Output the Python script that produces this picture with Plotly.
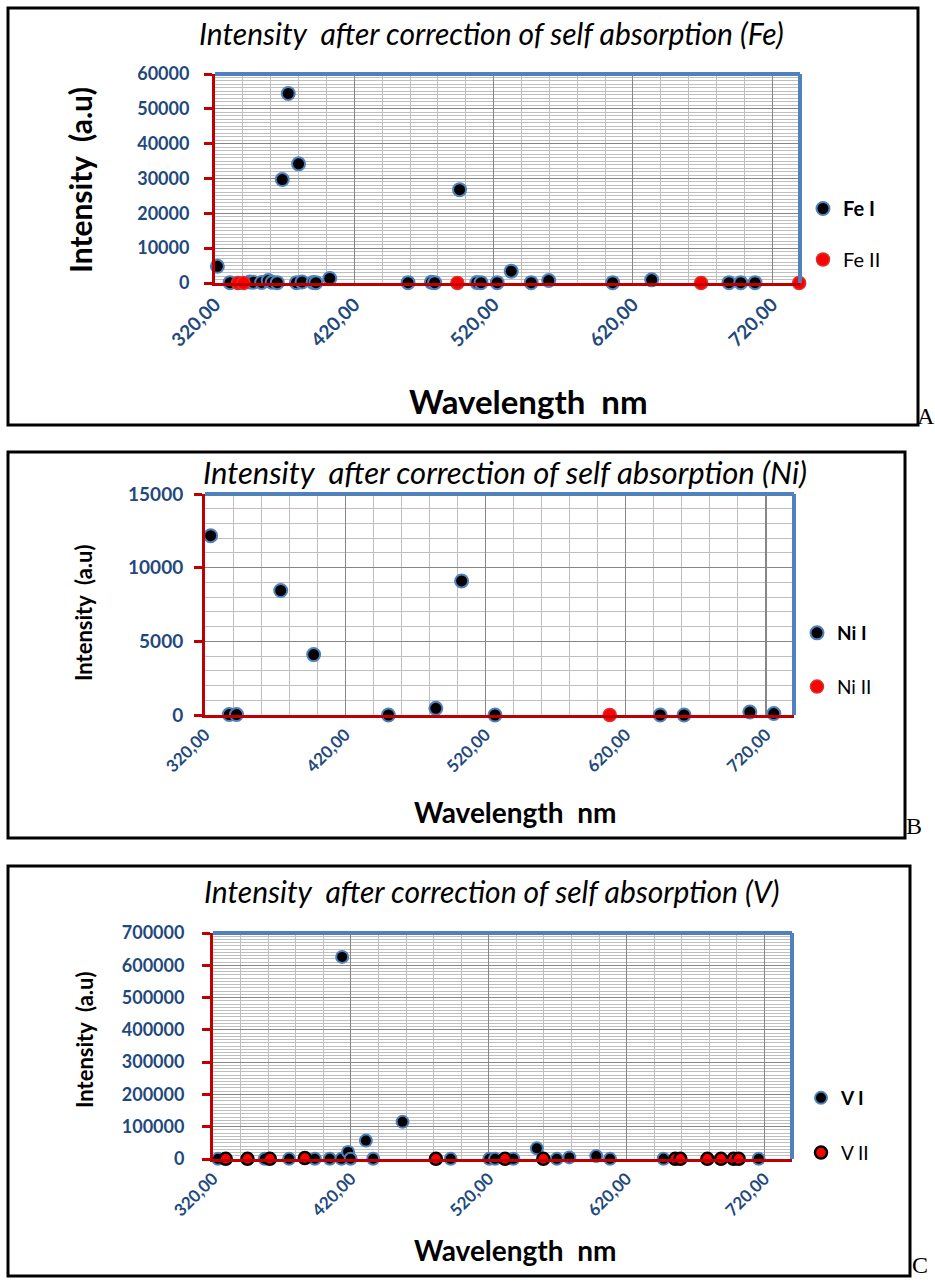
import plotly.graph_objects as go

W, H = 935, 1283

# ---------------- data ----------------
fe1_x = [321.7, 330.8, 345.0, 347.5, 353.5, 358.2, 361.0, 364.7, 368.3, 372.6, 378.5, 380.0, 382.5,
         390.5, 392.4, 402.4, 458.6, 475.3, 477.7, 495.6, 508.0, 511.0, 522.6, 532.7, 547.0, 559.6,
         605.5, 633.5, 689.0, 697.5, 707.7]
fe1_y = [4800, 100, 300, 200, 150, 700, 200, 100, 29700, 54400, 100, 34200, 300,
         150, 100, 1300, 100, 200, 100, 26800, 150, 100, 100, 3400, 100, 700,
         100, 900, 100, 100, 100]
fe2_x = [336.5, 340.5, 494.0, 669.0, 739.4]
fe2_y = [0, 0, 0, 0, 0]

ni1_x = [324.0, 337.3, 342.5, 374.0, 397.5, 450.8, 484.6, 503.0, 526.8, 644.6, 661.6, 708.5, 725.6]
ni1_y = [12170, 30, 30, 8450, 4100, 0, 450, 9100, 0, 0, 0, 200, 100]
ni2_x = [608.6]
ni2_y = [0]

v1_x = [323.6, 357.5, 375.2, 393.9, 404.7, 413.2, 413.7, 418.0, 419.8, 430.9, 436.2, 457.5,
        492.4, 520.4, 524.6, 537.9, 554.9, 569.4, 578.5, 598.0, 608.0, 646.8, 715.8]
v1_y = [500, 500, 500, 1000, 1000, 500, 626000, 22000, 1000, 57000, 1000, 115000,
        500, 500, 500, 500, 33000, 500, 5000, 9000, 500, 500, 500]
v2_x = [329.2, 345.0, 361.2, 386.6, 481.7, 531.8, 559.6, 655.3, 659.0, 678.6, 688.5, 697.6, 701.3]
v2_y = [500, 500, 500, 3000, 500, 500, 500, 500, 500, 500, 500, 500, 500]

x_ticks = [320, 420, 520, 620, 720]

# ---------------- helpers ----------------
def xdom(a, b):
    return [a / W, b / W]

def ydom(top, bottom):
    return [1 - bottom / H, 1 - top / H]

def px(x):
    return x / W

def py(y):
    return 1 - y / H

FONT = "Lato"
TICKBLUE = "#1F497D"
RED_AX = "#C00000"
BLUE_BORDER = "#4F81BD"
MAJOR_GRID = "#868686"
MINOR_GRID = "#BFBFBF"

fig = go.Figure()

# Panel A
fig.add_trace(go.Scatter(x=fe1_x, y=fe1_y, mode="markers", name="<b>Fe I</b>",
                         marker=dict(size=13, color="black", line=dict(color=BLUE_BORDER, width=2)),
                         xaxis="x", yaxis="y", legend="legend", legendgroup="a1", cliponaxis=False))
fig.add_trace(go.Scatter(x=fe2_x, y=fe2_y, mode="markers", name="Fe II",
                         marker=dict(size=13, color="#FF0000", line=dict(color="#D83030", width=1.5)),
                         xaxis="x", yaxis="y", legend="legend", legendgroup="a2", cliponaxis=False))
# Panel B
fig.add_trace(go.Scatter(x=ni1_x, y=ni1_y, mode="markers", name="<b>Ni I</b>",
                         marker=dict(size=13, color="black", line=dict(color=BLUE_BORDER, width=2)),
                         xaxis="x2", yaxis="y2", legend="legend2", legendgroup="b1", cliponaxis=False))
fig.add_trace(go.Scatter(x=ni2_x, y=ni2_y, mode="markers", name="Ni II",
                         marker=dict(size=13, color="#FF0000", line=dict(color="#D83030", width=1.5)),
                         xaxis="x2", yaxis="y2", legend="legend2", legendgroup="b2", cliponaxis=False))
# Panel C
fig.add_trace(go.Scatter(x=v1_x, y=v1_y, mode="markers", name="<b>V I</b>",
                         marker=dict(size=12, color="black", line=dict(color=BLUE_BORDER, width=2)),
                         xaxis="x3", yaxis="y3", legend="legend3", legendgroup="c1", cliponaxis=False))
fig.add_trace(go.Scatter(x=v2_x, y=v2_y, mode="markers", name="V II",
                         marker=dict(size=12, color="#FF0000", line=dict(color="black", width=2.5)),
                         xaxis="x3", yaxis="y3", legend="legend3", legendgroup="c2", cliponaxis=False))


def xaxis_cfg(dom, anchor, fsize):
    return dict(domain=dom, anchor=anchor, range=[320, 740], tickmode="array",
                tickvals=x_ticks, tickformat=".2f", tickangle=-45, automargin=False,
                tickfont=dict(family=FONT, size=fsize, color=TICKBLUE, weight="bold"),
                showgrid=True, gridcolor=MAJOR_GRID, gridwidth=1.2,
                minor=dict(tick0=320, dtick=20, showgrid=True, gridcolor=MINOR_GRID, gridwidth=1),
                showline=True, linecolor=RED_AX, linewidth=3, zeroline=False, ticks="",
                fixedrange=True)


def yaxis_cfg(dom, anchor, rng, dtick, mdtick, fsize, standoff):
    return dict(domain=dom, anchor=anchor, range=rng, tickmode="linear", tick0=0, dtick=dtick,
                tickformat="d", automargin=False,
                tickfont=dict(family=FONT, size=fsize, color=TICKBLUE, weight="bold"),
                showgrid=True, gridcolor=MAJOR_GRID, gridwidth=1.2,
                minor=dict(tick0=0, dtick=mdtick, showgrid=True, gridcolor=MINOR_GRID, gridwidth=1),
                showline=True, linecolor=RED_AX, linewidth=3, zeroline=False,
                ticks="outside", tickcolor=RED_AX, ticklen=8, tickwidth=3,
                ticklabelstandoff=standoff, fixedrange=True)


A_box = (215, 800, 74, 283)
B_box = (205, 794, 494, 715)
C_box = (213, 792, 933, 1159)

fig.update_layout(
    width=W, height=H, margin=dict(l=0, r=0, t=0, b=0, pad=0, autoexpand=False),
    paper_bgcolor="white", plot_bgcolor="white",
    separators=", ",
    font=dict(family=FONT),
    hovermode=False,
    xaxis=xaxis_cfg(xdom(A_box[0], A_box[1]), "y", 19),
    yaxis=yaxis_cfg(ydom(A_box[2], A_box[3]), "x", [0, 60000], 10000, 1000, 18, 11),
    xaxis2=xaxis_cfg(xdom(B_box[0], B_box[1]), "y2", 17),
    yaxis2=yaxis_cfg(ydom(B_box[2], B_box[3]), "x2", [0, 15000], 5000, 1000, 19, 7),
    xaxis3=xaxis_cfg(xdom(C_box[0], C_box[1]), "y3", 17),
    yaxis3=yaxis_cfg(ydom(C_box[2], C_box[3]), "x3", [0, 700000], 100000, 10000, 18, 14),
    legend=dict(x=px(803), y=py(189), xanchor="left", yanchor="top", tracegroupgap=22,
                font=dict(family=FONT, size=20, color="black"), bgcolor="rgba(0,0,0,0)"),
    legend2=dict(x=px(797), y=py(614), xanchor="left", yanchor="top", tracegroupgap=26,
                 font=dict(family=FONT, size=19, color="black"), bgcolor="rgba(0,0,0,0)"),
    legend3=dict(x=px(801), y=py(1079), xanchor="left", yanchor="top", tracegroupgap=27,
                 font=dict(family=FONT, size=19, color="black"), bgcolor="rgba(0,0,0,0)"),
)

shapes = []
# Panel outer borders
for (x0, y0, x1, y1) in [(8, 8, 918, 425), (8, 452, 905, 838), (8, 866, 910, 1276)]:
    shapes.append(dict(type="rect", xref="paper", yref="paper", x0=px(x0), x1=px(x1),
                       y0=py(y1), y1=py(y0), line=dict(color="black", width=3)))
# blue top/right plot borders
for xa, ya in [("x", "y"), ("x2", "y2"), ("x3", "y3")]:
    shapes.append(dict(type="line", xref=xa + " domain", yref=ya + " domain", x0=0, x1=1, y0=1, y1=1,
                       line=dict(color=BLUE_BORDER, width=4)))
    shapes.append(dict(type="line", xref=xa + " domain", yref=ya + " domain", x0=1, x1=1, y0=0, y1=1,
                       line=dict(color=BLUE_BORDER, width=4)))
fig.update_layout(shapes=shapes)

ann = []
def add_text(text, x, y, size, bold=False, italic=False, angle=0, family=FONT, color="black"):
    ann.append(dict(text=text, x=px(x), y=py(y), xref="paper", yref="paper", showarrow=False,
                    xanchor="center", yanchor="middle", textangle=angle,
                    font=dict(family=family, size=size, color=color,
                              weight="bold" if bold else "normal",
                              style="italic" if italic else "normal")))

add_text("Intensity  after correction of self absorption (Fe)", 491, 33, 30, italic=True)
add_text("Intensity  after correction of self absorption (Ni)", 505, 472, 31, italic=True)
add_text("Intensity  after correction of self absorption (V)", 491, 891, 30, italic=True)

add_text("Intensity  (a.u)", 80, 180, 30, bold=True, angle=-90)
add_text("Intensity  (a.u)", 84, 613, 22, bold=True, angle=-90)
add_text("Intensity  (a.u)", 84, 1040, 22, bold=True, angle=-90)

add_text("Wavelength  nm", 528, 401, 33, bold=True)
add_text("Wavelength  nm", 515, 812, 28, bold=True)
add_text("Wavelength  nm", 515, 1250, 28, bold=True)

add_text("A", 926, 416, 24, family="Liberation Serif")
add_text("B", 914, 826, 24, family="Liberation Serif")
add_text("C", 920, 1265, 24, family="Liberation Serif")
fig.update_layout(annotations=ann)

fig.write_html("out.html", config={"displayModeBar": False, "staticPlot": True},
               post_script="document.body.style.margin='0px';")
